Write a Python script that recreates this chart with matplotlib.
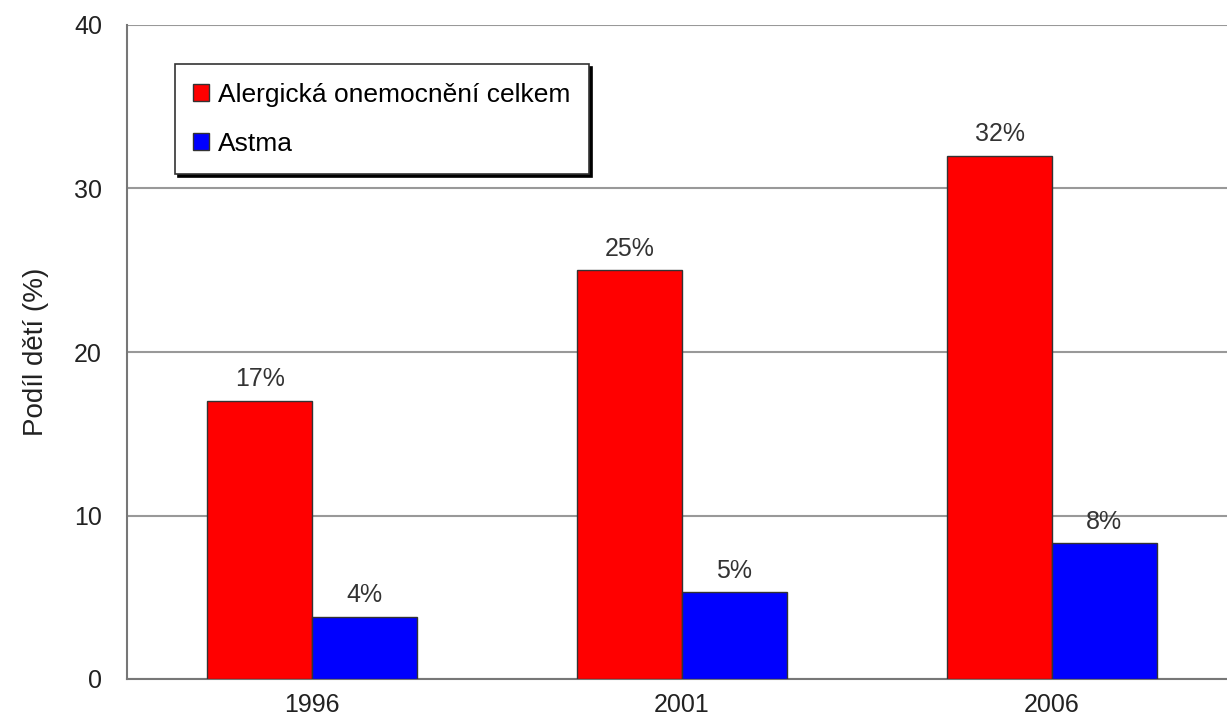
import numpy as np
import matplotlib.pyplot as plt

plt.rcParams['font.family'] = ['Liberation Sans', 'DejaVu Sans']

# data
years = ['1996', '2001', '2006']
alergie = [17.0, 25.0, 32.0]
astma = [3.8, 5.3, 8.3]
alergie_labels = ['17%', '25%', '32%']
astma_labels = ['4%', '5%', '8%']
series_names = ['Alergická onemocnění celkem', 'Astma']

fig = plt.figure(figsize=(12.27, 7.24), dpi=100)
ax = fig.add_axes([127 / 1227, 45 / 724, 1110 / 1227, 654 / 724])

x = np.arange(len(years))
w = 0.283
b1 = ax.bar(x - w / 2, alergie, w, color='#ff0000', edgecolor='#333333', linewidth=1, label=series_names[0], zorder=3)
b2 = ax.bar(x + w / 2, astma, w, color='#0000ff', edgecolor='#333333', linewidth=1, label=series_names[1], zorder=3)

ax.bar_label(b1, labels=alergie_labels, padding=7, fontsize=18, color='#333333')
ax.bar_label(b2, labels=astma_labels, padding=7, fontsize=18, color='#333333')

ax.set_xlim(-0.5, 2.5)
ax.set_ylim(0, 40)
ax.set_yticks([0, 10, 20, 30, 40])
ax.set_xticks(x)
ax.set_xticklabels(years)
ax.tick_params(axis='y', length=0, pad=18, labelsize=18, labelcolor='#222222')
ax.tick_params(axis='x', length=0, pad=10, labelsize=18, labelcolor='#222222')
ax.yaxis.grid(True, color='#999999', linewidth=1.5, zorder=0)
ax.set_axisbelow(True)

for s in ['top', 'right']:
    ax.spines[s].set_visible(False)
ax.spines['left'].set_color('#777777')
ax.spines['left'].set_linewidth(1.5)
ax.spines['bottom'].set_color('#777777')
ax.spines['bottom'].set_linewidth(1.5)

ax.set_ylabel('Podíl dětí (%)', fontsize=20, color='#222222', labelpad=18)

leg = ax.legend(loc='upper left', bbox_to_anchor=(0.043, 0.94), borderaxespad=0,
                fontsize=19, frameon=True, fancybox=False, framealpha=1,
                edgecolor='#333333', handlelength=0.6, handleheight=0.6,
                handletextpad=0.35, labelspacing=0.95, borderpad=0.7,
                shadow={'color': 'black', 'alpha': 1})
leg.get_frame().set_linewidth(1.2)

fig.savefig('out.png', dpi=100)
